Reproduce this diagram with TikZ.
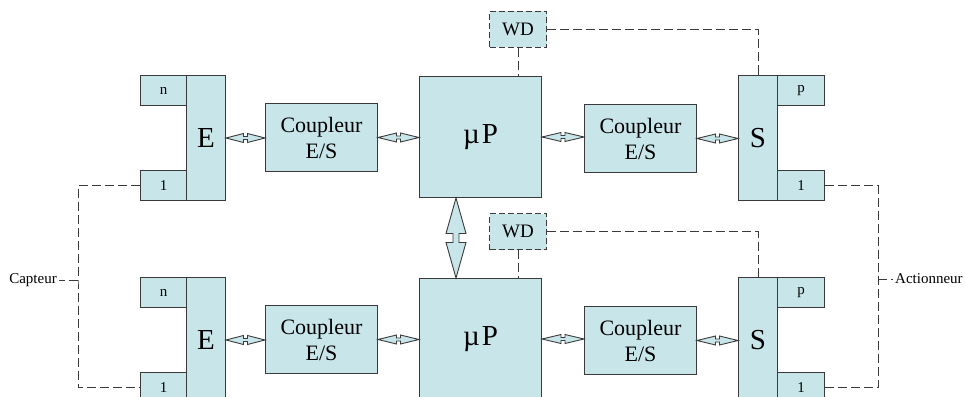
\documentclass[tikz,border=0pt]{standalone}
\usepackage{fontspec}
\setmainfont{Liberation Serif}
\usetikzlibrary{calc}

\definecolor{boxfill}{HTML}{C8E6EA}
\definecolor{boxline}{HTML}{3A3A3A}

\tikzset{
  blk/.style={draw=boxline, fill=boxfill, line width=1pt, inner sep=0pt,
              anchor=north west, align=center},
  column/.style={blk, minimum width=39pt, minimum height=125pt, font=\fontsize{29}{30}\selectfont},
  slot/.style={blk, minimum width=46pt, minimum height=30pt, font=\fontsize{15}{17}\selectfont},
  coupler/.style={blk, minimum width=112pt, minimum height=68pt, font=\fontsize{22}{26}\selectfont},
  cpu/.style={blk, minimum width=122pt, minimum height=121pt, font=\fontsize{29}{30}\selectfont},
  watchdog/.style={blk, dashed, dash pattern=on 6pt off 3pt, minimum width=57pt,
                   minimum height=36pt, font=\fontsize{19}{21}\selectfont},
  signal/.style={draw=boxline, line width=0.9pt, dash pattern=on 9pt off 4pt},
  bus/.style={draw=boxline, fill=boxfill, line width=0.9pt, line join=miter},
  tag/.style={inner sep=2pt, font=\fontsize{15}{17}\selectfont}
}

% horizontal two-way block arrow between the east side of #1 and the west side of #2
\newcommand{\hbus}[2]{%
  \path[bus] let \p1=(#1.east), \p2=(#2.west), \n1={(\x1+\x2)/2} in
    (\x1,\y1) -- (\n1-2pt,\y1+4.5pt) -- (\n1-2pt,\y1+1.5pt) -- (\n1+2pt,\y1+1.5pt)
    -- (\n1+2pt,\y1+4.5pt) -- (\x2,\y1) -- (\n1+2pt,\y1-4.5pt) -- (\n1+2pt,\y1-1.5pt)
    -- (\n1-2pt,\y1-1.5pt) -- (\n1-2pt,\y1-4.5pt) -- cycle;}

\begin{document}
\begin{tikzpicture}[x=1pt,y=-1pt]
\useasboundingbox (0,0) rectangle (965,396);
\clip (0,0) rectangle (965,396);

\foreach \r/\dy in {1/0,2/202}{
  % input module
  \node[column] (E\r) at (186,75+\dy) {E};
  \node[slot] (n\r) at (140,75+\dy) {n};
  \node[slot] (i\r) at (140,170+\dy) {1};
  % couplers and processor
  \node[coupler] (C\r) at (265,103+\dy) {Coupleur\\E/S};
  \node[cpu] (P\r) at (419,76+\dy) {µ\kern2pt P};
  \node[coupler] (D\r) at (584,104+\dy) {Coupleur\\E/S};
  % output module
  \node[column] (S\r) at (738,75+\dy) {S};
  \node[slot, minimum width=47pt] (p\r) at (777,75+\dy) {p};
  \node[slot, minimum width=47pt] (o\r) at (777,170+\dy) {1};
  % watchdog
  \node[watchdog] (W\r) at (489,11+\dy) {WD};

  \hbus{E\r}{C\r}
  \hbus{C\r}{P\r}
  \hbus{P\r}{D\r}
  \hbus{D\r}{S\r}

  \draw[signal] (W\r.south) -- (W\r.south |- P\r.north);
  \draw[signal] (W\r.east) -| (S\r.north);
}

% link between the two processors
\path[bus] let \p1=([xshift=-24.5pt]P1.south), \p2=([xshift=-24.5pt]P2.north),
  \n1={(\y1+\y2)/2} in
  (\x1,\y1) -- (\x1+10pt,\n1+4.5pt) -- (\x1+3pt,\n1+4.5pt) -- (\x1+3pt,\n1-4.5pt)
  -- (\x1+10pt,\n1-4.5pt) -- (\x1,\y2) -- (\x1-10pt,\n1-4.5pt) -- (\x1-3pt,\n1-4.5pt)
  -- (\x1-3pt,\n1+4.5pt) -- (\x1-10pt,\n1+4.5pt) -- cycle;

% sensors and actuators
\coordinate (cap) at (78,280);
\coordinate (act) at (878,279);
\node[tag, anchor=east] (capteur) at (59,280) {Capteur};
\node[tag, anchor=west] (actionneur) at (893,279) {Actionneur};
\draw[signal] (i1.west) -| (cap) |- (i2.west);
\draw[signal] (o1.east) -| (act) |- (o2.east);
\draw[signal] (cap) -- (capteur.east);
\draw[signal] (act) -- (actionneur.west);
\end{tikzpicture}
\end{document}
